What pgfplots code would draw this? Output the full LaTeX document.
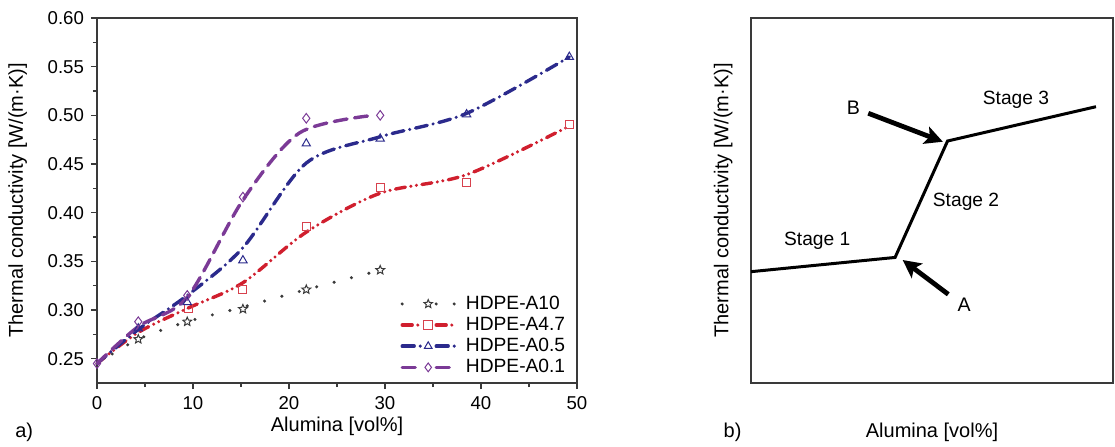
\documentclass[border=0pt]{standalone}
\usepackage{pgfplots}
\pgfplotsset{compat=1.18}
\usepackage{fontspec}
\setmainfont{Liberation Sans}
\usetikzlibrary{arrows.meta}

\definecolor{cGray}{HTML}{3A3A3A}
\definecolor{cRed}{HTML}{D01F2E}
\definecolor{cBlue}{HTML}{2B2A8C}
\definecolor{cPurple}{HTML}{7B3A96}

% open five-pointed star
\pgfdeclareplotmark{ostar}{%
  \pgfpathmoveto{\pgfqpointpolar{90}{\pgfplotmarksize}}%
  \pgfpathlineto{\pgfqpointpolar{126}{0.45\pgfplotmarksize}}%
  \pgfpathlineto{\pgfqpointpolar{162}{\pgfplotmarksize}}%
  \pgfpathlineto{\pgfqpointpolar{198}{0.45\pgfplotmarksize}}%
  \pgfpathlineto{\pgfqpointpolar{234}{\pgfplotmarksize}}%
  \pgfpathlineto{\pgfqpointpolar{270}{0.45\pgfplotmarksize}}%
  \pgfpathlineto{\pgfqpointpolar{306}{\pgfplotmarksize}}%
  \pgfpathlineto{\pgfqpointpolar{342}{0.45\pgfplotmarksize}}%
  \pgfpathlineto{\pgfqpointpolar{18}{\pgfplotmarksize}}%
  \pgfpathlineto{\pgfqpointpolar{54}{0.45\pgfplotmarksize}}%
  \pgfpathclose\pgfusepathqstroke}

% line styles of the four series
\tikzset{
  l10/.style={cGray, line width=1.7pt, line cap=round, dash pattern=on 0pt off 9pt},
  l47/.style={cRed, line width=1.7pt, line cap=round, dash pattern=on 5pt off 2.8pt on 0pt off 2.8pt on 0pt off 2.8pt},
  l05/.style={cBlue, line width=1.7pt, line cap=round, dash pattern=on 6pt off 3pt on 0pt off 3pt},
  l01/.style={cPurple, line width=1.7pt, line cap=round, dash pattern=on 6.5pt off 3.8pt},
}

\newcommand{\legimg}[3]{% line style, mark, mark colour
  \draw[#1] (0pt,0pt) -- (9pt,0pt);
  \draw[#1] (17pt,0pt) -- (26pt,0pt);
  \draw[#3, line width=0.5pt, solid] plot[mark=#2, mark size=2.2pt] coordinates {(13pt,0pt)};
}

\begin{document}
\begin{tikzpicture}[font=\fontsize{9}{10.5}\selectfont]
\useasboundingbox (-48.5pt,-31.5pt) rectangle (509pt,191.5pt);

\begin{axis}[
  at={(0pt,0pt)}, anchor=south west,
  scale only axis, width=240pt, height=182.5pt,
  xmin=0, xmax=50, ymin=0.225, ymax=0.60,
  xtick={0,10,...,50}, minor x tick num=1,
  ytick={0.25,0.30,...,0.61}, minor y tick num=1,
  yticklabel style={/pgf/number format/.cd, fixed, fixed zerofill, precision=2},
  ticklabel style={font=\fontsize{9.3}{10.5}\selectfont},
  /pgf/number format/assume math mode=true,
  tick align=outside, xtick pos=bottom, ytick pos=left,
  major tick length=3pt, minor tick length=2pt,
  axis line style={cGray, line width=0.9pt},
  tick style={cGray, line width=0.8pt},
  xlabel={Alumina [vol\%]},
  ylabel={Thermal conductivity [W/(m·K)]},
  label style={font=\fontsize{10}{11}\selectfont},
  xlabel style={at={(axis description cs:0.5,-0.118)}, anchor=center},
  ylabel style={at={(axis description cs:-0.165,0.5)}, anchor=center},
  legend style={at={(axis description cs:0.997,0.005)}, anchor=south east,
    draw=none, fill=none, row sep=1.2pt, font=\fontsize{9.6}{10}\selectfont,
    nodes={inner ysep=0.6pt},
    /tikz/every odd column/.append style={column sep=3pt}},
  legend cell align=left,
  clip=false,
]
% fitted curves
\addplot[l10, smooth, forget plot] coordinates {
  (0,0.245) (4.3,0.270) (9.4,0.288) (15.2,0.303) (21.8,0.321) (28.4,0.338)};
\addplot[l47, smooth, forget plot] coordinates {
  (0,0.245) (4.3,0.277) (9.5,0.302) (15.2,0.328) (21.8,0.380) (29.5,0.420) (38.5,0.439) (49.2,0.489)};
\addplot[l05, smooth, forget plot] coordinates {
  (0,0.245) (4.3,0.280) (9.4,0.315) (15.2,0.364) (21.8,0.451) (29.5,0.478) (38.5,0.502) (49.2,0.560)};
\addplot[l01, smooth, forget plot] coordinates {
  (0,0.245) (4.3,0.283) (9.4,0.313) (15.2,0.413) (21.1,0.482) (28.8,0.500)};
% measured points
\addplot[only marks, mark=ostar, mark size=2.3pt, cGray, line width=0.5pt,
  legend image code/.code={\legimg{l10}{ostar}{cGray}}] coordinates {
  (4.3,0.270) (9.4,0.288) (15.2,0.301) (21.8,0.321) (29.5,0.341)};
\addlegendentry{HDPE-A10}
\addplot[only marks, mark=square, mark size=2pt, cRed!85!white, line width=0.5pt,
  legend image code/.code={\legimg{l47}{square}{cRed!85!white}}] coordinates {
  (9.5,0.302) (15.2,0.321) (21.8,0.386) (29.5,0.426) (38.5,0.431) (49.2,0.4905)};
\addlegendentry{HDPE-A4.7}
\addplot[only marks, mark=triangle, mark size=2.4pt, cBlue, line width=0.5pt,
  legend image code/.code={\legimg{l05}{triangle}{cBlue}}] coordinates {
  (4.3,0.281) (9.4,0.308) (15.2,0.351) (21.8,0.471) (29.5,0.476) (38.5,0.501) (49.2,0.560)};
\addlegendentry{HDPE-A0.5}
\addplot[only marks, mark=diamond, mark size=2.4pt, cPurple, line width=0.5pt,
  legend image code/.code={\legimg{l01}{diamond}{cPurple}}] coordinates {
  (0,0.245) (4.3,0.288) (9.4,0.315) (15.2,0.416) (21.8,0.497) (29.5,0.500)};
\addlegendentry{HDPE-A0.1}
\node[anchor=west, font=\fontsize{10}{11}\selectfont] at (axis description cs:-0.185,-0.135) {a)};
\end{axis}

\begin{axis}[
  at={(327pt,0pt)}, anchor=south west,
  scale only axis, width=181pt, height=182.5pt,
  xmin=0, xmax=100, ymin=0, ymax=100,
  xtick=\empty, ytick=\empty,
  axis line style={cGray, line width=0.9pt},
  xlabel={Alumina [vol\%]},
  ylabel={Thermal conductivity [W/(m·K)]},
  label style={font=\fontsize{10}{11}\selectfont},
  xlabel style={at={(axis description cs:0.5,-0.136)}, anchor=center},
  ylabel style={at={(axis description cs:-0.077,0.5)}, anchor=center},
  clip=false,
]
\addplot[black, line width=1.5pt, line join=miter] coordinates {
  (0,30.5) (39.8,34.4) (54.3,66.3) (95.3,75.7)};
\draw[black, line width=2.4pt, -{Stealth[length=9pt, width=9pt, inset=2pt]}]
  (axis cs:32.4,73.9) -- (axis cs:53.0,66.1);
\draw[black, line width=2.4pt, -{Stealth[length=9pt, width=9pt, inset=2pt]}]
  (axis cs:54.5,24.3) -- (axis cs:41.9,33.7);
\node[font=\fontsize{9.8}{11}\selectfont] at (axis cs:28.3,75.5) {B};
\node[font=\fontsize{9.8}{11}\selectfont] at (axis cs:58.9,21.5) {A};
\node[font=\fontsize{9.6}{11}\selectfont] at (axis cs:73.2,77.5) {Stage 3};
\node[font=\fontsize{9.6}{11}\selectfont] at (axis cs:59.4,49.7) {Stage 2};
\node[font=\fontsize{9.6}{11}\selectfont] at (axis cs:18.3,39.0) {Stage 1};
\node[anchor=west, font=\fontsize{10}{11}\selectfont] at (axis description cs:-0.095,-0.135) {b)};
\end{axis}
\end{tikzpicture}
\end{document}
